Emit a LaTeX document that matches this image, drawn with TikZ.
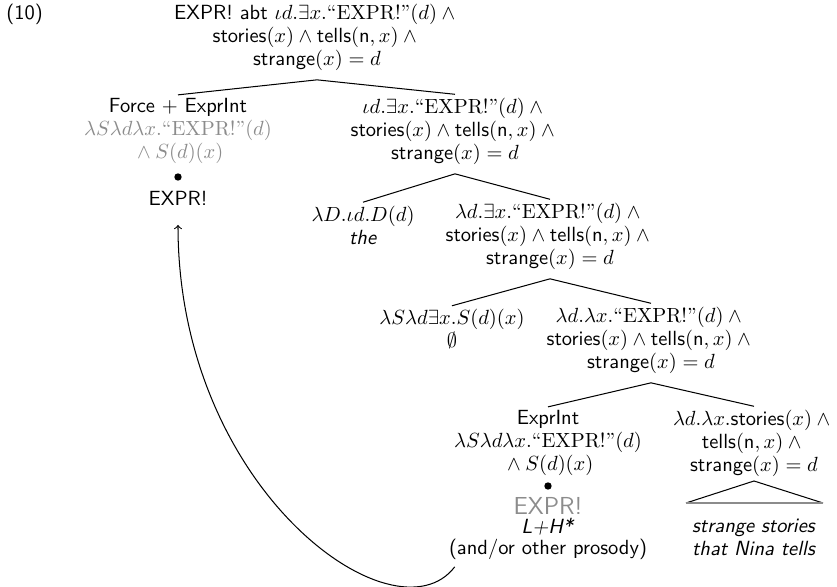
\documentclass[tikz,border=0pt]{standalone}
\usepackage{amsmath}
\definecolor{lgray}{gray}{0.55}
\tikzset{
  tn/.style={align=center, inner xsep=0pt, inner ysep=1.5pt, font=\sffamily\fontsize{10}{11.2}\selectfont},
  dotn/.style={circle, fill=black, inner sep=0pt, minimum size=3.6pt},
  br/.style={line width=0.5pt},
}
\newcommand{\qexpr}{\text{\rmfamily “EXPR!”}}
\begin{document}
\begin{tikzpicture}[x=0.4878pt,y=-0.4878pt]
\useasboundingbox (0,0) rectangle (837,587);
\node[tn, anchor=west] (ex) at (6,14) {(10)};
\node[tn] (root) at (317,37) {EXPR! abt $\iota d.\exists x.\qexpr(d)\wedge{}$\\ $\text{stories}(x)\wedge\text{tells}(\text{n},x)\wedge{}$\\ $\text{strange}(x)=d$};
\node[tn] (force) at (178,131) {Force $+$ ExprInt\\ \textcolor{lgray}{$\lambda S\lambda d\lambda x.\qexpr(d)$}\\ \textcolor{lgray}{${}\wedge S(d)(x)$}};
\node[dotn] (fb) at (178,177) {};
\node[tn] (fe) at (178,198) {EXPR!};
\node[tn] (iota) at (455,131) {$\iota d.\exists x.\qexpr(d)\wedge{}$\\ $\text{stories}(x)\wedge\text{tells}(\text{n},x)\wedge{}$\\ $\text{strange}(x)=d$};
\node[tn] (the) at (363,225) {$\lambda D.\iota d.D(d)$\\ \textit{the}};
\node[tn] (ldex) at (550,236) {$\lambda d.\exists x.\qexpr(d)\wedge{}$\\ $\text{stories}(x)\wedge\text{tells}(\text{n},x)\wedge{}$\\ $\text{strange}(x)=d$};
\node[tn] (lsl) at (452,329) {$\lambda S\lambda d\exists x.S(d)(x)$\\ $\emptyset$};
\node[tn] (ldlx) at (651,340) {$\lambda d.\lambda x.\qexpr(d)\wedge{}$\\ $\text{stories}(x)\wedge\text{tells}(\text{n},x)\wedge{}$\\ $\text{strange}(x)=d$};
\node[tn] (exprint) at (548,443) {ExprInt\\ $\lambda S\lambda d\lambda x.\qexpr(d)$\\ ${}\wedge S(d)(x)$};
\node[dotn] (eb) at (548,486) {};
\node[tn, text=lgray, font=\sffamily\large] (ee) at (548,506) {EXPR!};
\node[tn] (lh) at (548,527) {\textit{L+H*}};
\node[tn] (pros) at (548,549) {(and/or other prosody)};
\node[tn] (stories) at (754,443) {$\lambda d.\lambda x.\text{stories}(x)\wedge{}$\\ $\text{tells}(\text{n},x)\wedge{}$\\ $\text{strange}(x)=d$};
\coordinate (tA) at (754,481);
\coordinate (tL) at (686,503);
\coordinate (tR) at (823,503);
\node[tn] (snt) at (754,537) {\textit{strange stories}\\ \textit{that Nina tells}};
% branches
\draw[br] ([yshift=-3pt]root.south) -- (force.north);
\draw[br] ([yshift=-3pt]root.south) -- (iota.north);
\draw[br] ([yshift=-3pt]iota.south) -- (the.north);
\draw[br] ([yshift=-3pt]iota.south) -- (ldex.north);
\draw[br] ([yshift=-3pt]ldex.south) -- (lsl.north);
\draw[br] ([yshift=-3pt]ldex.south) -- (ldlx.north);
\draw[br] ([yshift=-3pt]ldlx.south) -- (exprint.north);
\draw[br] ([yshift=-3pt]ldlx.south) -- (stories.north);
\draw[br] (tL) -- (tA) -- (tR);
\draw[line width=0.9pt, lgray] (tL) -- (tR);
% movement arrow
\draw[br, ->] ([xshift=3pt,yshift=-2pt]pros.south west) .. controls (395,645) and (178,490) .. ([yshift=-8pt]fe.south);
\end{tikzpicture}
\end{document}
